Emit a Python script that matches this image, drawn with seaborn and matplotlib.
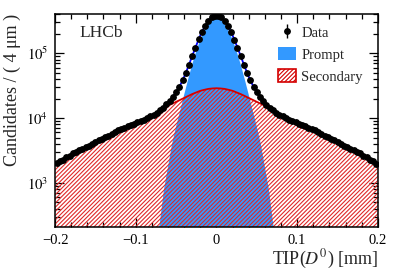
import numpy as np
import pandas as pd
import matplotlib
matplotlib.use("Agg")
import matplotlib.pyplot as plt
import seaborn as sns
from matplotlib.patches import Patch
from matplotlib.ticker import MultipleLocator, LogLocator, NullFormatter, FixedLocator

# ---------------- data ----------------
bin_centers = [-0.198, -0.194, -0.190, -0.186, -0.182, -0.178, -0.174, -0.170, -0.166, -0.162,
               -0.158, -0.154, -0.150, -0.146, -0.142, -0.138, -0.134, -0.130, -0.126, -0.122,
               -0.118, -0.114, -0.110, -0.106, -0.102, -0.098, -0.094, -0.090, -0.086, -0.082,
               -0.078, -0.074, -0.070, -0.066, -0.062, -0.058, -0.054, -0.050, -0.046, -0.042,
               -0.038, -0.034, -0.030, -0.026, -0.022, -0.018, -0.014, -0.010, -0.006, -0.002,
               0.002, 0.006, 0.010, 0.014, 0.018, 0.022, 0.026, 0.030, 0.034, 0.038,
               0.042, 0.046, 0.050, 0.054, 0.058, 0.062, 0.066, 0.070, 0.074, 0.078,
               0.082, 0.086, 0.090, 0.094, 0.098, 0.102, 0.106, 0.110, 0.114, 0.118,
               0.122, 0.126, 0.130, 0.134, 0.138, 0.142, 0.146, 0.150, 0.154, 0.158,
               0.162, 0.166, 0.170, 0.174, 0.178, 0.182, 0.186, 0.190, 0.194, 0.198]
data_counts = [1990, 2190, 2290, 2510, 2640, 2870, 2980, 3210, 3350, 3590,
               3760, 4030, 4210, 4520, 4740, 5080, 5330, 5720, 6010, 6440,
               6750, 7130, 7430, 7860, 8180, 8640, 8990, 9470, 9960, 10580,
               11230, 12080, 13140, 14480, 16230, 18350, 21350, 25150, 30350, 38050,
               49700, 66400, 91200, 121800, 163500, 210500, 263500, 315500, 357500, 380500,
               381500, 356500, 316500, 262500, 211500, 162500, 122300, 90800, 66600, 49500,
               38150, 30250, 25250, 21250, 18450, 16150, 14520, 13080, 12120, 11180,
               10620, 9940, 9480, 8970, 8650, 8170, 7880, 7420, 7140, 6730,
               6450, 6000, 5730, 5320, 5090, 4730, 4530, 4200, 4040, 3750,
               3600, 3340, 3220, 2970, 2880, 2630, 2520, 2280, 2200, 1980]

x_fit = [-0.20, -0.18, -0.16, -0.14, -0.12, -0.10, -0.09, -0.08, -0.075, -0.07,
         -0.065, -0.06, -0.055, -0.05, -0.045, -0.04, -0.035, -0.03, -0.025, -0.02,
         -0.015, -0.01, -0.005, 0.0, 0.005, 0.01, 0.015, 0.02, 0.025, 0.03,
         0.035, 0.04, 0.045, 0.05, 0.055, 0.06, 0.065, 0.07, 0.075, 0.08,
         0.09, 0.10, 0.12, 0.14, 0.16, 0.18, 0.20]
prompt_fit = [0.001, 0.001, 0.001, 0.001, 0.05, 1, 5, 32, 89, 251,
              794, 1780, 3980, 7410, 12900, 22900, 39800, 67600, 107000, 162000,
              224000, 288000, 339000, 360000, 339000, 288000, 224000, 162000, 107000, 67600,
              39800, 22900, 12900, 7410, 3980, 1780, 794, 251, 89, 32,
              5, 1, 0.05, 0.001, 0.001, 0.001, 0.001]
secondary_fit = [1950, 2750, 3670, 4900, 6610, 8410, 9440, 10840, 11750, 12880,
                 14130, 15490, 16600, 17780, 19050, 20420, 21880, 23440, 24830, 26300,
                 27280, 28180, 28600, 28840, 28600, 28180, 27280, 26300, 24830, 23440,
                 21880, 20420, 19050, 17780, 16600, 15490, 14130, 12880, 11750, 10840,
                 9440, 8410, 6610, 4900, 3670, 2750, 1950]

x_ticks = [-0.2, -0.1, 0.0, 0.1, 0.2]
x_tick_labels = ["\u22120.2", "\u22120.1", "0", "0.1", "0.2"]
y_ticks = [1e3, 1e4, 1e5]
y_tick_labels = ["$10^{3}$", "$10^{4}$", "$10^{5}$"]

# ---------------- style ----------------
sns.set_theme(style="ticks")
plt.rcParams["font.family"] = ["Liberation Serif", "DejaVu Serif"]
plt.rcParams["mathtext.fontset"] = "stix"
plt.rcParams["hatch.linewidth"] = 0.8

BLUE_FILL = "#3399ff"
RED = "#d40000"
HATCH_RED = "#e02828"

fit = pd.DataFrame({"x": x_fit, "prompt": prompt_fit, "secondary": secondary_fit})
fit["total"] = fit["prompt"] + fit["secondary"]
dat = pd.DataFrame({"x": bin_centers, "n": data_counts})
dat["err"] = np.sqrt(dat["n"])

fig = plt.figure(figsize=(3.99, 2.70), dpi=100)
ax = fig.add_axes([0.138, 0.160, 0.809, 0.790])

base = 1e-3
ax.fill_between(fit["x"], base, fit["prompt"], color=BLUE_FILL, lw=0, zorder=1)
ax.fill_between(fit["x"], base, fit["secondary"], facecolor="none", edgecolor=HATCH_RED,
                hatch="////////", lw=0, zorder=2)
sns.lineplot(data=fit, x="x", y="secondary", ax=ax, color=RED, lw=1.3, zorder=3,
             sort=False, estimator=None)
sns.lineplot(data=fit, x="x", y="total", ax=ax, color="#0000ff", lw=1.3, zorder=4,
             sort=False, estimator=None)
eb = ax.errorbar(dat["x"], dat["n"], yerr=dat["err"], fmt="o", color="black",
                 ms=3.9, elinewidth=1.0, capsize=0, zorder=5)

ax.set_yscale("log")
ax.set_xlim(-0.2, 0.2)
ax.set_ylim(210, 4.1e5)

ax.xaxis.set_major_locator(FixedLocator(x_ticks))
ax.set_xticklabels(x_tick_labels)
ax.xaxis.set_minor_locator(MultipleLocator(0.02))
ax.yaxis.set_major_locator(FixedLocator(y_ticks))
ax.set_yticklabels(y_tick_labels)
ax.yaxis.set_minor_locator(LogLocator(base=10, subs=np.arange(2, 10)))
ax.yaxis.set_minor_formatter(NullFormatter())

ax.tick_params(which="both", direction="in", top=True, right=True, labelsize=10.5,
               width=0.9, colors="black")
ax.tick_params(which="major", length=6.5, pad=5)
ax.tick_params(which="minor", length=3.5)
for s in ax.spines.values():
    s.set_linewidth(1.1)
    s.set_color("black")

ax.set_xlabel("TIP($D^{0}$) [mm]", fontsize=13, loc="right", labelpad=1)
ax.set_ylabel("Candidates / ( 4 \u03bcm )", fontsize=13, loc="top", labelpad=4)

ax.text(0.077, 0.908, "LHCb", transform=ax.transAxes, fontsize=12.5, va="center", ha="left")

handles = [eb,
           Patch(facecolor=BLUE_FILL, edgecolor="none"),
           Patch(facecolor="white", edgecolor=RED, hatch="////////", lw=1.2)]
ax.legend(handles, ["Data", "Prompt", "Secondary"], loc="upper left",
          bbox_to_anchor=(0.69, 0.945), frameon=False, fontsize=10.5,
          handlelength=1.25, handleheight=1.0, handletextpad=0.35,
          labelspacing=0.52, borderpad=0, borderaxespad=0)

fig.savefig("out.png", dpi=100)
